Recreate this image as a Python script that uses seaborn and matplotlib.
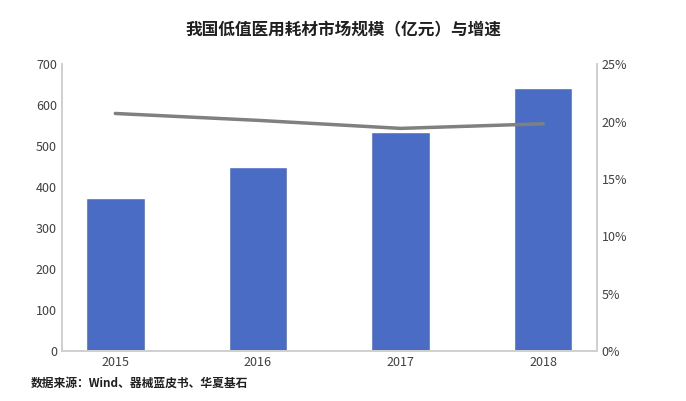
import matplotlib
matplotlib.use("Agg")
import matplotlib.pyplot as plt
import seaborn as sns
import pandas as pd
from matplotlib.ticker import FuncFormatter

years = ["2015", "2016", "2017", "2018"]
market_size = [373, 448, 535, 641]
growth_rate = [0.207, 0.201, 0.194, 0.198]

sns.set_theme(style="white")
plt.rcParams['font.family'] = ['Noto Sans CJK SC', 'DejaVu Sans']

df = pd.DataFrame({"year": years, "size": market_size, "growth": growth_rate})

fig = plt.figure(figsize=(6.86, 4.01), dpi=100)
ax = fig.add_axes([0.090, 0.125, 0.780, 0.715])
sns.barplot(data=df, x="year", y="size", color="#4A6CC4", width=0.41, ax=ax, saturation=1)
ax.set_ylim(0, 700)
ax.set_yticks(range(0, 701, 100))
ax.set_xlabel("")
ax.set_ylabel("")

ax2 = ax.twinx()
ax2.plot(range(len(years)), df["growth"], color="#808080", linewidth=2.5)
ax2.set_ylim(0, 0.25)
ax2.set_yticks([0, 0.05, 0.10, 0.15, 0.20, 0.25])
ax2.yaxis.set_major_formatter(FuncFormatter(lambda v, p: f"{v*100:.0f}%"))

for a in (ax, ax2):
    a.tick_params(labelsize=9, colors="#404040", length=0)
    a.spines["top"].set_visible(False)
    for s in ["left", "right", "bottom"]:
        a.spines[s].set_color("#d0d0d0")

fig.text(0.5, 0.925, "我国低值医用耗材市场规模（亿元）与增速", ha="center", va="center",
         fontsize=12, fontweight="bold", color="#202020")
fig.text(0.045, 0.045, "数据来源：Wind、器械蓝皮书、华夏基石", ha="left", va="center",
         fontsize=8.5, fontweight="bold", color="#202020")

fig.savefig("out.png", dpi=100)
